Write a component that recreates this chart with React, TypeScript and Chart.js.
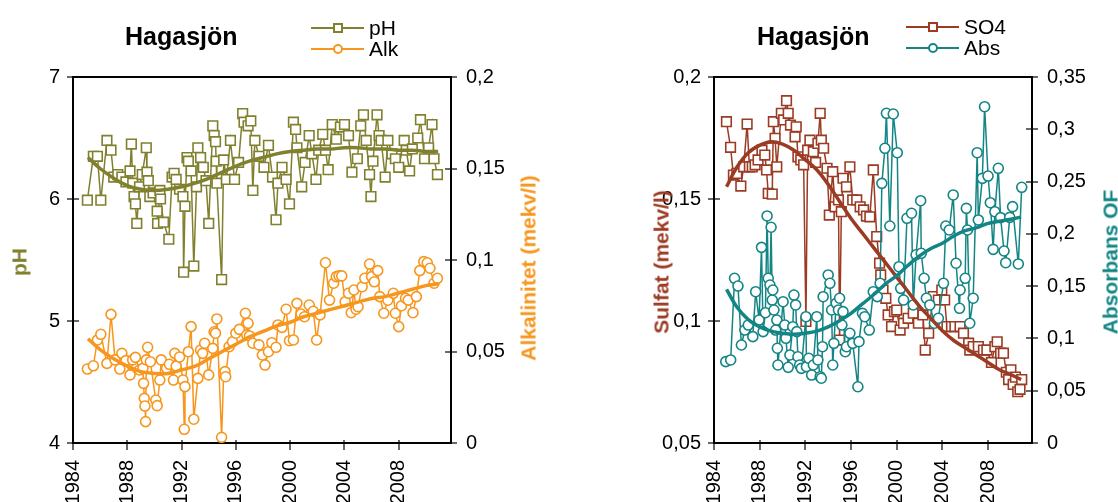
import { useEffect, useRef } from 'react';
import { Chart, registerables } from 'chart.js';
Chart.register(...registerables);

const FONT = '"Liberation Sans", Arial, sans-serif';
const OLIVE = '#80802F';
const ORANGE = '#F7961D';
const BROWN = '#9B3B24';
const TEAL = '#138585';

const yearTicks = [1984, 1988, 1992, 1996, 2000, 2004, 2008];
const xMin = 1984;
const xMax = 2011.85;

// ---- Left panel: pH and alkalinity ----
const phYears = [1985.06, 1985.5, 1985.8, 1986.05, 1986.5, 1986.8, 1987.0, 1987.3, 1987.6, 1987.9, 1988.2, 1988.3, 1988.4, 1988.5, 1988.6, 1988.7, 1988.9, 1989.1, 1989.4, 1989.45, 1989.55, 1989.66, 1989.9, 1990.2, 1990.23, 1990.4, 1990.45, 1990.67, 1991.06, 1991.3, 1991.45, 1991.6, 1991.85, 1992.1, 1992.15, 1992.25, 1992.4, 1992.5, 1992.7, 1992.9, 1993.1, 1993.2, 1993.4, 1993.6, 1993.8, 1994.0, 1994.3, 1994.4, 1994.5, 1994.55, 1994.6, 1994.95, 1995.1, 1995.3, 1995.6, 1995.9, 1996.2, 1996.5, 1996.6, 1996.9, 1997.1, 1997.25, 1997.4, 1997.7, 1998.07, 1998.4, 1998.7, 1998.96, 1999.1, 1999.4, 1999.7, 1999.95, 2000.24, 2000.4, 2000.5, 2000.85, 2001.1, 2001.4, 2001.6, 2001.9, 2002.1, 2002.4, 2002.6, 2002.8, 2003.1, 2003.4, 2003.7, 2004.0, 2004.3, 2004.55, 2004.95, 2005.2, 2005.4, 2005.6, 2005.85, 2005.95, 2006.1, 2006.4, 2006.55, 2006.7, 2007.0, 2007.2, 2007.5, 2007.75, 2008.0, 2008.4, 2008.55, 2008.8, 2009.0, 2009.4, 2009.6, 2009.9, 2010.2, 2010.45, 2010.6, 2010.85];
const phValues = [5.99, 6.35, 6.35, 5.99, 6.48, 6.40, 6.18, 6.20, 6.18, 6.14, 6.23, 6.45, 6.13, 6.02, 5.96, 5.80, 6.10, 6.20, 6.42, 6.22, 6.15, 6.02, 6.05, 5.90, 5.80, 6.07, 6.00, 5.81, 5.67, 6.18, 6.21, 6.16, 6.08, 6.02, 5.40, 5.94, 6.34, 6.31, 6.23, 5.45, 6.10, 6.42, 6.34, 6.26, 6.15, 5.80, 6.60, 6.52, 6.47, 6.31, 6.13, 5.34, 6.32, 6.16, 6.48, 6.16, 6.30, 6.70, 6.63, 6.60, 6.64, 6.07, 6.48, 6.35, 6.26, 6.44, 6.18, 5.83, 6.13, 6.26, 6.16, 5.96, 6.63, 6.57, 6.42, 6.10, 6.30, 6.52, 6.37, 6.16, 6.40, 6.53, 6.40, 6.24, 6.61, 6.49, 6.59, 6.61, 6.52, 6.22, 6.33, 6.60, 6.69, 6.48, 6.20, 6.02, 6.31, 6.69, 6.52, 6.48, 6.18, 6.48, 6.37, 6.33, 6.26, 6.48, 6.40, 6.23, 6.41, 6.50, 6.65, 6.33, 6.42, 6.61, 6.33, 6.20];

const alkYears = [1985.06, 1985.5, 1985.8, 1986.05, 1986.5, 1986.8, 1987.1, 1987.45, 1987.6, 1987.9, 1988.2, 1988.4, 1988.6, 1988.9, 1989.15, 1989.2, 1989.25, 1989.3, 1989.35, 1989.4, 1989.5, 1989.7, 1990.1, 1990.2, 1990.4, 1990.5, 1990.9, 1991.1, 1991.4, 1991.5, 1991.6, 1991.85, 1992.1, 1992.2, 1992.25, 1992.5, 1992.7, 1992.9, 1993.2, 1993.4, 1993.55, 1993.7, 1994.0, 1994.3, 1994.4, 1994.5, 1994.6, 1994.95, 1995.1, 1995.2, 1995.25, 1995.5, 1995.75, 1996.0, 1996.25, 1996.7, 1996.8, 1996.9, 1997.0, 1997.25, 1997.7, 1997.95, 1998.15, 1998.4, 1998.65, 1998.96, 1999.1, 1999.4, 1999.7, 1999.95, 2000.24, 2000.5, 2000.8, 2001.05, 2001.4, 2001.7, 2001.95, 2002.2, 2002.6, 2002.9, 2003.2, 2003.4, 2003.6, 2003.8, 2004.05, 2004.3, 2004.5, 2004.7, 2004.85, 2005.0, 2005.3, 2005.5, 2005.85, 2006.0, 2006.2, 2006.45, 2006.6, 2006.9, 2007.2, 2007.6, 2007.75, 2008.0, 2008.2, 2008.5, 2008.7, 2009.05, 2009.3, 2009.55, 2009.85, 2010.1, 2010.3, 2010.6, 2010.85];
const alkValues = [0.0404, 0.0422, 0.0563, 0.0594, 0.0435, 0.0703, 0.0454, 0.0404, 0.049, 0.045, 0.0372, 0.0454, 0.0468, 0.0399, 0.0408, 0.0326, 0.0244, 0.0202, 0.0117, 0.0454, 0.0523, 0.0444, 0.0235, 0.0204, 0.0344, 0.0454, 0.0408, 0.043, 0.0344, 0.049, 0.042, 0.047, 0.0344, 0.0075, 0.0308, 0.0499, 0.0636, 0.013, 0.0353, 0.0508, 0.049, 0.0545, 0.0372, 0.0517, 0.0608, 0.06, 0.0678, 0.0031, 0.038, 0.039, 0.0362, 0.0526, 0.0553, 0.06, 0.0621, 0.0709, 0.059, 0.0654, 0.0585, 0.0545, 0.0536, 0.0481, 0.0426, 0.0499, 0.0548, 0.0523, 0.0645, 0.0632, 0.0731, 0.0559, 0.0563, 0.0763, 0.0705, 0.069, 0.0754, 0.072, 0.0563, 0.07, 0.0985, 0.0781, 0.0873, 0.0909, 0.0913, 0.0913, 0.0772, 0.0818, 0.0712, 0.0836, 0.0731, 0.0745, 0.0854, 0.09, 0.0978, 0.0909, 0.0881, 0.0942, 0.08, 0.0709, 0.078, 0.0818, 0.0709, 0.0636, 0.075, 0.0791, 0.0781, 0.0712, 0.08, 0.0942, 0.0991, 0.0985, 0.0955, 0.0873, 0.09];

const trendYears = [1985.1, 1986, 1987, 1988, 1989, 1990, 1991, 1992, 1993, 1994, 1995, 1996, 1997, 1998, 1999, 2000, 2001, 2002, 2003, 2004, 2005, 2006, 2007, 2008, 2009, 2010, 2010.9];
const phTrend = [6.34, 6.25, 6.17, 6.11, 6.08, 6.07, 6.08, 6.10, 6.13, 6.17, 6.22, 6.27, 6.31, 6.34, 6.37, 6.39, 6.40, 6.41, 6.41, 6.42, 6.42, 6.41, 6.41, 6.40, 6.40, 6.39, 6.39];
const alkTrend = [0.057, 0.051, 0.046, 0.042, 0.039, 0.038, 0.038, 0.040, 0.042, 0.046, 0.050, 0.054, 0.058, 0.061, 0.064, 0.066, 0.069, 0.071, 0.073, 0.075, 0.077, 0.079, 0.080, 0.082, 0.084, 0.086, 0.087];

// ---- Right panel: sulphate and absorbance ----
const so4Years = [1985.09, 1985.45, 1985.7, 1986.0, 1986.35, 1986.6, 1986.9, 1987.1, 1987.35, 1987.6, 1987.86, 1988.2, 1988.45, 1988.6, 1988.75, 1989.1, 1989.2, 1989.35, 1989.5, 1989.9, 1990.1, 1990.35, 1990.5, 1990.7, 1991.1, 1991.2, 1991.35, 1991.6, 1991.85, 1992.05, 1992.2, 1992.4, 1992.7, 1992.9, 1993.1, 1993.3, 1993.4, 1993.6, 1993.9, 1994.1, 1994.4, 1994.6, 1994.9, 1995.0, 1995.15, 1995.3, 1995.6, 1995.9, 1996.15, 1996.5, 1996.8, 1997.1, 1997.35, 1997.65, 1997.95, 1998.25, 1998.5, 1998.6, 1998.8, 1999.05, 1999.25, 1999.55, 1999.8, 2000.0, 2000.3, 2000.6, 2001.0, 2001.45, 2001.9, 2002.3, 2002.5, 2002.8, 2003.2, 2003.65, 2003.95, 2004.2, 2004.4, 2004.8, 2005.1, 2005.55, 2005.85, 2006.3, 2006.4, 2006.7, 2007.15, 2007.6, 2007.9, 2008.3, 2008.6, 2008.8, 2009.1, 2009.35, 2009.6, 2009.8, 2010.0, 2010.2, 2010.4, 2010.6, 2010.8, 2010.95];
const so4Values = [0.1817, 0.1712, 0.1598, 0.1605, 0.1553, 0.1632, 0.1807, 0.1632, 0.1632, 0.164, 0.166, 0.17, 0.168, 0.1619, 0.1523, 0.152, 0.1817, 0.1749, 0.1632, 0.1851, 0.1824, 0.1903, 0.1851, 0.1803, 0.1755, 0.1796, 0.1673, 0.166, 0.164, 0.0998, 0.17, 0.1741, 0.1694, 0.165, 0.1728, 0.1851, 0.1741, 0.1708, 0.1626, 0.1434, 0.1612, 0.1468, 0.1496, 0.0922, 0.1448, 0.1585, 0.155, 0.1632, 0.1496, 0.1496, 0.1468, 0.1455, 0.143, 0.1427, 0.1619, 0.1346, 0.1237, 0.1189, 0.1127, 0.1093, 0.1025, 0.0977, 0.1038, 0.1045, 0.0963, 0.0991, 0.1011, 0.1032, 0.0991, 0.1025, 0.0881, 0.095, 0.11, 0.1086, 0.1127, 0.1086, 0.0977, 0.0977, 0.0977, 0.0977, 0.095, 0.0909, 0.0881, 0.0895, 0.0895, 0.0881, 0.0881, 0.083, 0.0895, 0.0915, 0.0868, 0.0868, 0.079, 0.076, 0.08, 0.074, 0.077, 0.071, 0.072, 0.076];

const absYears = [1985.03, 1985.46, 1985.8, 1986.1, 1986.4, 1986.7, 1987.0, 1987.4, 1987.65, 1987.95, 1988.16, 1988.3, 1988.5, 1988.65, 1988.75, 1988.9, 1989.0, 1989.1, 1989.15, 1989.25, 1989.4, 1989.5, 1989.55, 1989.6, 1990.05, 1990.2, 1990.3, 1990.5, 1990.65, 1990.9, 1991.0, 1991.15, 1991.25, 1991.35, 1991.5, 1991.65, 1992.05, 1992.1, 1992.3, 1992.55, 1992.7, 1993.0, 1993.1, 1993.3, 1993.4, 1993.5, 1993.56, 1994.0, 1994.15, 1994.3, 1994.4, 1994.5, 1994.7, 1994.9, 1995.0, 1995.2, 1995.3, 1995.5, 1995.6, 1995.9, 1996.15, 1996.6, 1996.7, 1997.0, 1997.2, 1997.6, 1997.95, 1998.3, 1998.55, 1998.7, 1998.97, 1999.1, 1999.4, 1999.7, 2000.05, 2000.2, 2000.35, 2000.6, 2000.9, 2001.3, 2001.45, 2001.7, 2002.1, 2002.15, 2002.4, 2002.6, 2002.9, 2003.3, 2003.65, 2004.1, 2004.3, 2004.6, 2004.95, 2005.2, 2005.5, 2005.55, 2006.0, 2006.1, 2006.2, 2006.4, 2006.7, 2007.05, 2007.15, 2007.5, 2007.7, 2008.0, 2008.2, 2008.45, 2008.6, 2008.9, 2009.1, 2009.4, 2009.55, 2009.9, 2010.15, 2010.65, 2010.95];
const absValues = [0.0778, 0.0794, 0.1575, 0.1501, 0.0937, 0.108, 0.1128, 0.1017, 0.1447, 0.1176, 0.1871, 0.1065, 0.1246, 0.2171, 0.1575, 0.1511, 0.2063, 0.1367, 0.1463, 0.1272, 0.108, 0.1176, 0.0906, 0.0746, 0.1351, 0.1128, 0.1001, 0.0724, 0.0842, 0.1112, 0.1415, 0.132, 0.1065, 0.0825, 0.0746, 0.0714, 0.1208, 0.073, 0.081, 0.065, 0.0746, 0.1208, 0.0794, 0.0634, 0.0619, 0.0921, 0.1399, 0.1607, 0.1527, 0.1272, 0.0746, 0.0953, 0.1336, 0.1272, 0.1384, 0.1128, 0.1256, 0.0873, 0.0921, 0.1049, 0.0953, 0.0538, 0.0969, 0.124, 0.1208, 0.108, 0.1447, 0.14, 0.1527, 0.2483, 0.2818, 0.3153, 0.2075, 0.3146, 0.2776, 0.1686, 0.1479, 0.1367, 0.2149, 0.2197, 0.132, 0.18, 0.2317, 0.1814, 0.1575, 0.1384, 0.132, 0.1145, 0.1193, 0.1527, 0.2075, 0.2037, 0.2372, 0.1719, 0.1288, 0.1463, 0.1575, 0.2244, 0.2037, 0.1145, 0.1384, 0.2776, 0.2133, 0.2531, 0.3216, 0.2553, 0.2298, 0.1852, 0.2212, 0.2627, 0.2155, 0.1836, 0.1724, 0.2158, 0.226, 0.1712, 0.2445];

const so4Trend = [0.155, 0.163, 0.169, 0.172, 0.1735, 0.1725, 0.170, 0.166, 0.162, 0.156, 0.149, 0.142, 0.136, 0.130, 0.124, 0.118, 0.112, 0.106, 0.101, 0.096, 0.092, 0.089, 0.086, 0.083, 0.080, 0.078, 0.076];
const absTrend = [0.147, 0.130, 0.118, 0.111, 0.107, 0.105, 0.104, 0.105, 0.107, 0.111, 0.117, 0.124, 0.133, 0.142, 0.152, 0.160, 0.170, 0.179, 0.186, 0.191, 0.198, 0.203, 0.206, 0.210, 0.212, 0.214, 0.216];

const CANVAS_W = 559;
const CANVAS_H = 560;
const PLOT_TOP = 77;
const PLOT_BOTTOM = 443;

function pts(xs: number[], ys: number[]) {
  return xs.map((x, i) => ({ x, y: ys[i] }));
}

const fmt = (v: number | string) => String(+Number(v).toFixed(2)).replace('.', ',');

const framePlugin = {
  id: 'frameTicks',
  beforeDatasetsDraw(chart: any) {
    const { ctx, chartArea: a, scales } = chart;
    ctx.save();
    ctx.strokeStyle = '#3a3a3a';
    ctx.lineWidth = 1.5;
    ctx.beginPath();
    (['y', 'y1'] as const).forEach((id) => {
      const s = scales[id];
      const x0 = id === 'y' ? a.left : a.right;
      s.ticks.forEach((t: any) => {
        const py = Math.round(s.getPixelForValue(t.value));
        ctx.moveTo(x0 - 6, py);
        ctx.lineTo(x0 + 6, py);
      });
    });
    yearTicks.forEach((yr) => {
      const px = Math.round(scales.x.getPixelForValue(yr));
      ctx.moveTo(px, a.bottom - 3);
      ctx.lineTo(px, a.bottom + 7);
    });
    ctx.stroke();
    ctx.strokeStyle = '#000';
    ctx.lineWidth = 2;
    ctx.strokeRect(a.left, a.top, a.right - a.left, a.bottom - a.top);
    ctx.restore();
  },
};

function dataSet(xs: number[], ys: number[], color: string, style: 'rect' | 'circle', axis: string, order: number) {
  return {
    data: pts(xs, ys),
    yAxisID: axis,
    borderColor: color,
    borderWidth: 1.5,
    pointStyle: style,
    pointRadius: style === 'rect' ? 6.8 : 5,
    pointBorderWidth: 1.6,
    pointBorderColor: color,
    pointBackgroundColor: '#ffffff',
    tension: 0,
    order,
  };
}

function trendSet(xs: number[], ys: number[], color: string, axis: string, order: number) {
  return {
    data: pts(xs, ys),
    yAxisID: axis,
    borderColor: color,
    borderWidth: 3.5,
    pointRadius: 0,
    tension: 0.4,
    order,
  };
}

function buildConfig(datasets: any[], left: any, right: any, plotLeft: number, plotRight: number) {
  const tickFont = { family: FONT, size: 20 };
  return {
    type: 'line' as const,
    data: { datasets },
    options: {
      animation: false as const,
      responsive: false,
      devicePixelRatio: 1,
      layout: { padding: { top: PLOT_TOP, left: 0, right: 0, bottom: 0 } },
      plugins: { legend: { display: false }, tooltip: { enabled: false }, title: { display: false } },
      scales: {
        x: {
          type: 'linear' as const,
          min: xMin,
          max: xMax,
          bounds: 'data' as const,
          grid: { display: false, drawTicks: false },
          border: { display: false },
          afterBuildTicks: (s: any) => {
            s.ticks = yearTicks.map((v) => ({ value: v }));
          },
          afterFit: (s: any) => {
            s.height = CANVAS_H - PLOT_BOTTOM;
          },
          ticks: {
            autoSkip: false,
            minRotation: 90,
            maxRotation: 90,
            padding: 17,
            color: '#000',
            font: tickFont,
            callback: (v: any) => String(v),
          },
        },
        y: {
          type: 'linear' as const,
          position: 'left' as const,
          min: left.min,
          max: left.max,
          grid: { display: false, drawTicks: false },
          border: { display: false },
          afterFit: (s: any) => {
            s.width = plotLeft;
          },
          ticks: { stepSize: left.step, padding: 13, color: '#000', font: tickFont, callback: left.fmt },
        },
        y1: {
          type: 'linear' as const,
          position: 'right' as const,
          min: right.min,
          max: right.max,
          grid: { display: false, drawTicks: false },
          border: { display: false },
          afterFit: (s: any) => {
            s.width = CANVAS_W - plotRight;
          },
          ticks: { stepSize: right.step, padding: 15, color: '#000', font: tickFont, callback: right.fmt },
        },
      },
    },
    plugins: [framePlugin],
  };
}

function LegendRow({ top, left, color, shape, label }: { top: number; left: number; color: string; shape: 'rect' | 'circle'; label: string }) {
  return (
    <>
      <div style={{ position: 'absolute', left, top: top - 1, width: 53, height: 2, background: color }} />
      <div
        style={{
          position: 'absolute',
          left: left + 26.5 - 5,
          top: top - 5,
          width: 10,
          height: 10,
          boxSizing: 'border-box',
          border: `2px solid ${color}`,
          borderRadius: shape === 'circle' ? '50%' : 0,
          background: '#fff',
        }}
      />
      <div
        style={{
          position: 'absolute',
          left: left + 58,
          top: top - 11,
          font: `21px ${FONT}`,
          lineHeight: '21px',
          whiteSpace: 'nowrap',
          color: '#000',
        }}
      >
        {label}
      </div>
    </>
  );
}

function AxisTitle({ cx, cy, color, text }: { cx: number; cy: number; color: string; text: string }) {
  return (
    <div
      style={{
        position: 'absolute',
        left: cx,
        top: cy,
        transform: 'translate(-50%, -50%) rotate(-90deg)',
        font: `bold 21px ${FONT}`,
        lineHeight: '21px',
        whiteSpace: 'nowrap',
        color,
      }}
    >
      {text}
    </div>
  );
}

export default function App() {
  const leftRef = useRef<HTMLCanvasElement | null>(null);
  const rightRef = useRef<HTMLCanvasElement | null>(null);

  useEffect(() => {
    const leftChart = new Chart(
      leftRef.current as HTMLCanvasElement,
      buildConfig(
        [
          trendSet(trendYears, phTrend, OLIVE, 'y', 0),
          trendSet(trendYears, alkTrend, ORANGE, 'y1', 1),
          dataSet(phYears, phValues, OLIVE, 'rect', 'y', 2),
          dataSet(alkYears, alkValues, ORANGE, 'circle', 'y1', 3),
        ],
        { min: 4, max: 7, step: 1, fmt: (v: any) => fmt(v) },
        { min: 0, max: 0.2, step: 0.05, fmt: (v: any) => fmt(v) },
        73,
        451
      ) as any
    );
    const rightChart = new Chart(
      rightRef.current as HTMLCanvasElement,
      buildConfig(
        [
          trendSet(trendYears, absTrend, TEAL, 'y1', 0),
          trendSet(trendYears, so4Trend, BROWN, 'y', 1),
          dataSet(absYears, absValues, TEAL, 'circle', 'y1', 2),
          dataSet(so4Years, so4Values, BROWN, 'rect', 'y', 3),
        ],
        { min: 0.05, max: 0.2, step: 0.05, fmt: (v: any) => fmt(v) },
        { min: 0, max: 0.35, step: 0.05, fmt: (v: any) => fmt(v) },
        155,
        473
      ) as any
    );
    return () => {
      leftChart.destroy();
      rightChart.destroy();
    };
  }, []);

  const titleStyle = {
    position: 'absolute' as const,
    top: 24,
    font: `bold 25px ${FONT}`,
    lineHeight: '25px',
    whiteSpace: 'nowrap' as const,
    color: '#000',
  };

  return (
    <div
      style={{
        position: 'absolute',
        left: 0,
        top: 0,
        width: 1118,
        height: 502,
        overflow: 'hidden',
        background: '#fff',
        fontFamily: FONT,
      }}
    >
      <canvas ref={leftRef} width={CANVAS_W} height={CANVAS_H} style={{ position: 'absolute', left: 0, top: 0 }} />
      <canvas ref={rightRef} width={CANVAS_W} height={CANVAS_H} style={{ position: 'absolute', left: 559, top: 0 }} />

      <div style={{ ...titleStyle, left: 125 }}>Hagasjön</div>
      <LegendRow top={27.5} left={311} color={OLIVE} shape="rect" label="pH" />
      <LegendRow top={48.5} left={311} color={ORANGE} shape="circle" label="Alk" />

      <div style={{ ...titleStyle, left: 757 }}>Hagasjön</div>
      <LegendRow top={27} left={906} color={BROWN} shape="rect" label="SO4" />
      <LegendRow top={48} left={906} color={TEAL} shape="circle" label="Abs" />

      <AxisTitle cx={19} cy={262} color={OLIVE} text="pH" />
      <AxisTitle cx={528} cy={268} color={ORANGE} text="Alkalinitet (mekv/l)" />
      <AxisTitle cx={661} cy={262} color={BROWN} text="Sulfat (mekv/l)" />
      <AxisTitle cx={1110} cy={262} color={TEAL} text="Absorbans OF" />
    </div>
  );
}
